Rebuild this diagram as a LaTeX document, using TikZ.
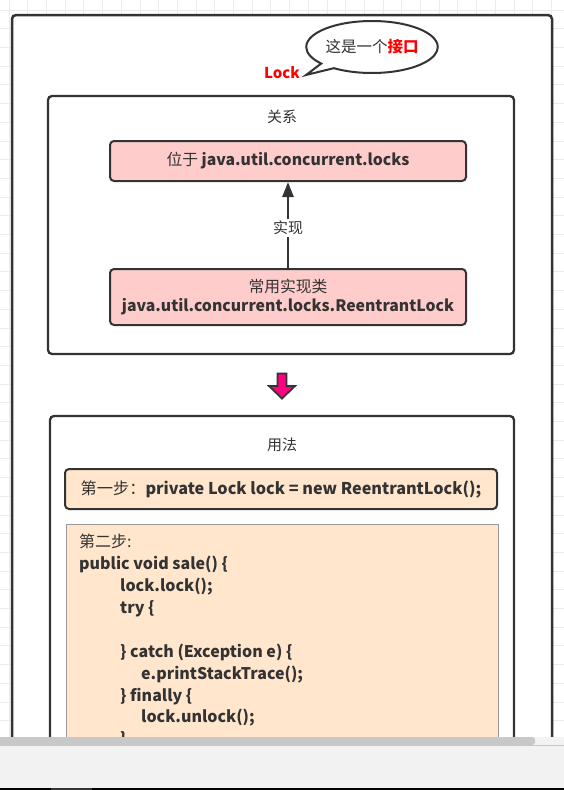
\documentclass[tikz,border=0pt]{standalone}
\usepackage{fontspec}
\setmainfont{Noto Sans CJK SC}
\usetikzlibrary{arrows.meta,shapes.callouts,shapes.geometric}
\definecolor{dk}{HTML}{333333}
\definecolor{gridc}{HTML}{EBEBEB}
\definecolor{pinkfill}{HTML}{FFCCCC}
\definecolor{orfill}{HTML}{FFE6CC}
\definecolor{magenta}{HTML}{FF0080}
\definecolor{redt}{HTML}{FF0000}
\definecolor{barbg}{HTML}{F2F2F2}
\definecolor{thumb}{HTML}{C8C8C8}
\tikzset{
  frame/.style={draw=dk, line width=2.5pt, rounded corners=4pt, fill=white},
  pinkbox/.style={draw=dk, line width=2pt, rounded corners=4pt, fill=pinkfill,
    minimum width=356pt, inner sep=0pt, align=center, text=dk, font=\fontsize{15.8}{20}\selectfont},
  title/.style={text=dk, font=\fontsize{15}{18}\selectfont, inner sep=0pt},
  conn/.style={draw=dk, line width=2.5pt, -{Triangle[length=15pt,width=11pt]}},
}
\begin{document}
\begin{tikzpicture}[x=1pt,y=-1pt]
\useasboundingbox (0,0) rectangle (564,790);
\fill[white] (0,0) rectangle (564,790);
% grid
\foreach \i in {0,...,29} \draw[gridc, line width=0.8pt] ({9+18.7*\i},0) -- ({9+18.7*\i},737);
\foreach \i in {0,...,39} \draw[gridc, line width=0.8pt] (0,{10+18.7*\i}) -- (564,{10+18.7*\i});
\begin{scope}
\clip (0,0) rectangle (564,737);
% outer frame
\draw[frame] (12,15) rectangle (552,820);
% callout and Lock
\node[ellipse callout, draw=dk, line width=2pt, fill=white, minimum width=131pt, minimum height=52pt,
  inner sep=0pt, callout absolute pointer={(306,75)}, font=\fontsize{15.5}{18}\selectfont, text=dk]
  (bubble) at (372,47) {这是一个\textcolor{redt}{\bfseries 接口}};
\node[text=redt, font=\bfseries\fontsize{15}{18}\selectfont, inner sep=0pt] (lock) at (282,73) {Lock};
% relation box
\draw[frame, line width=2.3pt] (48,96) rectangle (514,354);
\node[title] (reltitle) at (282,117) {关系};
\node[pinkbox, minimum height=40pt] (pkg) at (288,161) {位于 \textbf{java.util.concurrent.locks}};
\node[pinkbox, minimum height=56pt] (impl) at (288,297) {常用实现类\\[-1pt]\textbf{java.util.concurrent.locks.ReentrantLock}};
\draw[conn] (impl.north) -- node[pos=0.47, fill=white, text=dk, font=\fontsize{15}{18}\selectfont, inner sep=2pt] (lbl) {实现} (pkg.south);
% pink down arrow
\draw[draw=dk, fill=magenta, line width=1.8pt, line join=miter]
  (277.5,373.5) -- (286.5,373.5) -- (286.5,386) -- (295,386) -- (282,398.5) -- (269,386) -- (277.5,386) -- cycle;
% usage box
\draw[frame, line width=2.3pt] (50,416) rectangle (514,820);
\node[title] (usetitle) at (282,445) {用法};
\node[draw=dk, line width=2pt, rounded corners=4pt, fill=orfill, minimum width=432pt, minimum height=40pt,
  inner sep=0pt, text=dk, font=\fontsize{16.2}{18}\selectfont] (step1) at (281,489)
  {第一步：\textbf{private Lock lock = new ReentrantLock();}};
\draw[draw=gray!80, line width=1pt, fill=orfill] (66,524) rectangle (498,820);
\node[anchor=north west, align=left, inner sep=0pt, text=dk, font=\fontsize{16}{21.9}\selectfont] (code) at (79,534)
  {第二步:\\
   \textbf{public void sale() \{}\\
   \hspace*{41pt}\textbf{lock.lock();}\\
   \hspace*{41pt}\textbf{try \{}\\
   \mbox{}\\
   \hspace*{41pt}\textbf{\} catch (Exception e) \{}\\
   \hspace*{62pt}\textbf{e.printStackTrace();}\\
   \hspace*{41pt}\textbf{\} finally \{}\\
   \hspace*{62pt}\textbf{lock.unlock();}\\
   \hspace*{41pt}\textbf{\}}};
\end{scope}
% bottom scrollbar area
\fill[barbg] (0,737) rectangle (564,788);
\draw[thumb, line width=0.8pt] (0,745.5) -- (564,745.5);
\fill[thumb, rounded corners=3pt] (-5,737) rectangle (535,745);
\fill[black] (0,788) rectangle (564,790);
\fill[dk] (51,788) rectangle (92,790);
\end{tikzpicture}
\end{document}
